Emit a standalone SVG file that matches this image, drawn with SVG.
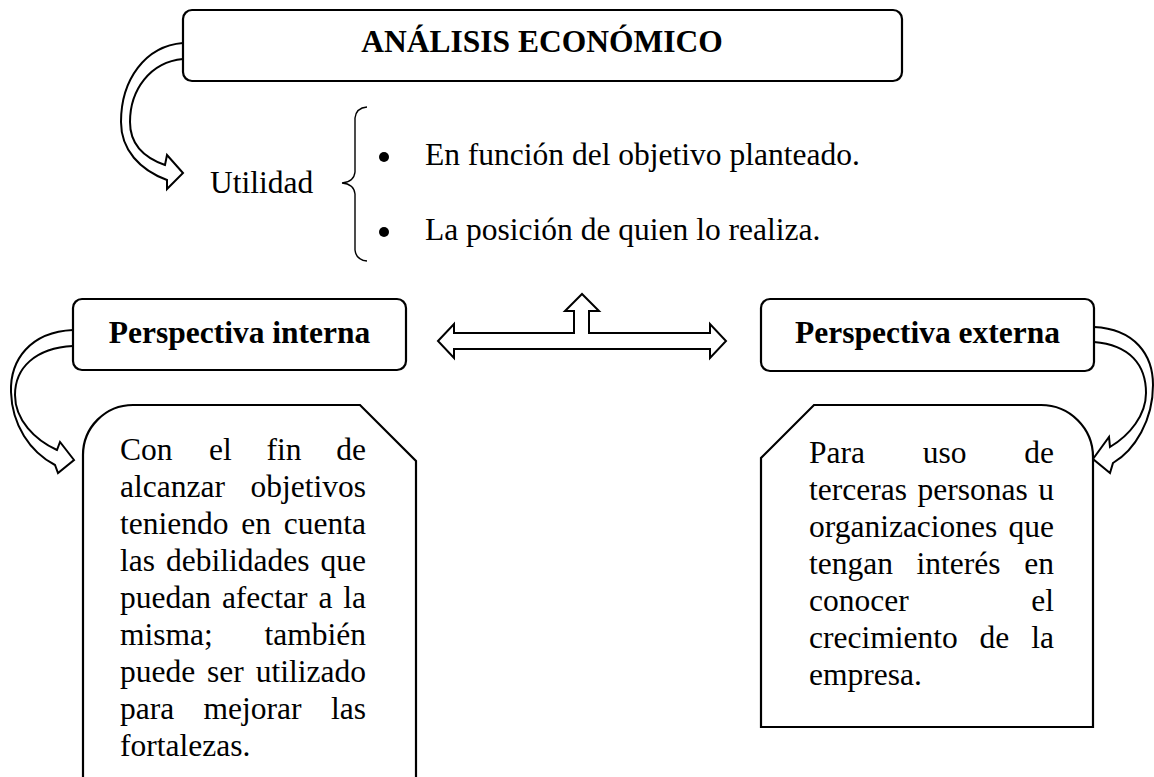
<svg xmlns="http://www.w3.org/2000/svg" width="1154" height="777" viewBox="0 0 1154 777">
<style>
.t{font-family:"Liberation Serif","Times New Roman",serif;font-size:31.5px;fill:#000}
.b{font-weight:bold}
.box{fill:#fff;stroke:#000;stroke-width:2.2}
.arr{fill:#fff;stroke:#000;stroke-width:2;stroke-linejoin:miter}
.brace{fill:none;stroke:#000;stroke-width:1.4}
</style>
<rect width="1154" height="777" fill="#fff"/>
<g id="connectors">
<path class="arr" d="M183,43 C145,46 121,80 121,122 C121,150 140,170 167,180 L167,189 L183,173 L167,155 L165,165 C145,158 130,145 130,122 C130,90 150,62 183,59"/>
<path class="arr" d="M73,330 C30,332 10,360 11,392 C12,425 30,452 55,465 L58,473 L74,460 L60,442 L57,450 C35,440 15,420 15,395 C15,368 35,348 73,346"/>
<path class="arr" d="M1094,327 C1135,329 1153,355 1153,385 C1153,420 1135,450 1113,463 L1110,473 L1093,459 L1109,437 L1110,447 C1130,435 1146,415 1146,393 C1146,365 1130,345 1094,342"/>
<polygon class="arr" points="438,341 454,324 454,333 574,333 574,311 565,311 582,294 599,311 589,311 589,333 710,333 710,324 726,341 710,358 710,349 454,349 454,358"/>
<path class="brace" d="M367,107 Q356,108 355,118 L355,172 Q354,182 342,183 Q354,184 355,194 L355,250 Q356,260 367,261"/>
</g>
<g id="analisis">
<rect class="box" x="183" y="10" width="719" height="71" rx="9"/>
<text class="t b" x="542" y="52" text-anchor="middle">ANÁLISIS ECONÓMICO</text>
</g>
<g id="utilidad">
<text class="t" x="210" y="193">Utilidad</text>
</g>
<g id="bullets">
<circle cx="384" cy="157" r="5"/>
<text class="t" x="425" y="165">En función del objetivo planteado.</text>
<circle cx="384" cy="232" r="5"/>
<text class="t" x="425" y="240">La posición de quien lo realiza.</text>
</g>
<g id="interna">
<rect class="box" x="73" y="299" width="333" height="71" rx="9"/>
<text class="t b" x="239.5" y="343" text-anchor="middle">Perspectiva interna</text>
</g>
<g id="externa">
<rect class="box" x="761" y="299" width="333" height="72" rx="9"/>
<text class="t b" x="927.5" y="343" text-anchor="middle">Perspectiva externa</text>
</g>
<g id="interna-detalle">
<path class="box" d="M83,790 L83,455 A50,50 0 0 1 133,405 L360,405 L416,461 L416,790"/>
<text class="t" y="460"><tspan x="120">Con</tspan><tspan x="209">el</tspan><tspan x="266.5">fin</tspan><tspan x="366" text-anchor="end">de</tspan></text>
<text class="t" y="497"><tspan x="120">alcanzar</tspan><tspan x="366" text-anchor="end">objetivos</tspan></text>
<text class="t" y="534"><tspan x="120">teniendo</tspan><tspan x="241.3">en</tspan><tspan x="366" text-anchor="end">cuenta</tspan></text>
<text class="t" y="571"><tspan x="120">las</tspan><tspan x="166">debilidades</tspan><tspan x="366" text-anchor="end">que</tspan></text>
<text class="t" y="608"><tspan x="120">puedan</tspan><tspan x="221.9">afectar</tspan><tspan x="318.5">a</tspan><tspan x="366" text-anchor="end">la</tspan></text>
<text class="t" y="645"><tspan x="120">misma;</tspan><tspan x="366" text-anchor="end">también</tspan></text>
<text class="t" y="682"><tspan x="120">puede</tspan><tspan x="207.1">ser</tspan><tspan x="366" text-anchor="end">utilizado</tspan></text>
<text class="t" y="719"><tspan x="120">para</tspan><tspan x="203.6">mejorar</tspan><tspan x="366" text-anchor="end">las</tspan></text>
<text class="t" x="120" y="756">fortalezas.</text>
</g>
<g id="externa-detalle">
<path class="box" d="M761,727 L761,458 L814,405 L1041,405 A52,52 0 0 1 1093,457 L1093,727 Z"/>
<text class="t" y="463"><tspan x="809">Para</tspan><tspan x="922.8">uso</tspan><tspan x="1054" text-anchor="end">de</tspan></text>
<text class="t" y="500"><tspan x="809">terceras</tspan><tspan x="917.5">personas</tspan><tspan x="1054" text-anchor="end">u</tspan></text>
<text class="t" y="537"><tspan x="809">organizaciones</tspan><tspan x="1054" text-anchor="end">que</tspan></text>
<text class="t" y="574"><tspan x="809">tengan</tspan><tspan x="916.6">interés</tspan><tspan x="1054" text-anchor="end">en</tspan></text>
<text class="t" y="611"><tspan x="809">conocer</tspan><tspan x="1054" text-anchor="end">el</tspan></text>
<text class="t" y="648"><tspan x="809">crecimiento</tspan><tspan x="979.6">de</tspan><tspan x="1054" text-anchor="end">la</tspan></text>
<text class="t" x="809" y="685">empresa.</text>
</g>
</svg>
